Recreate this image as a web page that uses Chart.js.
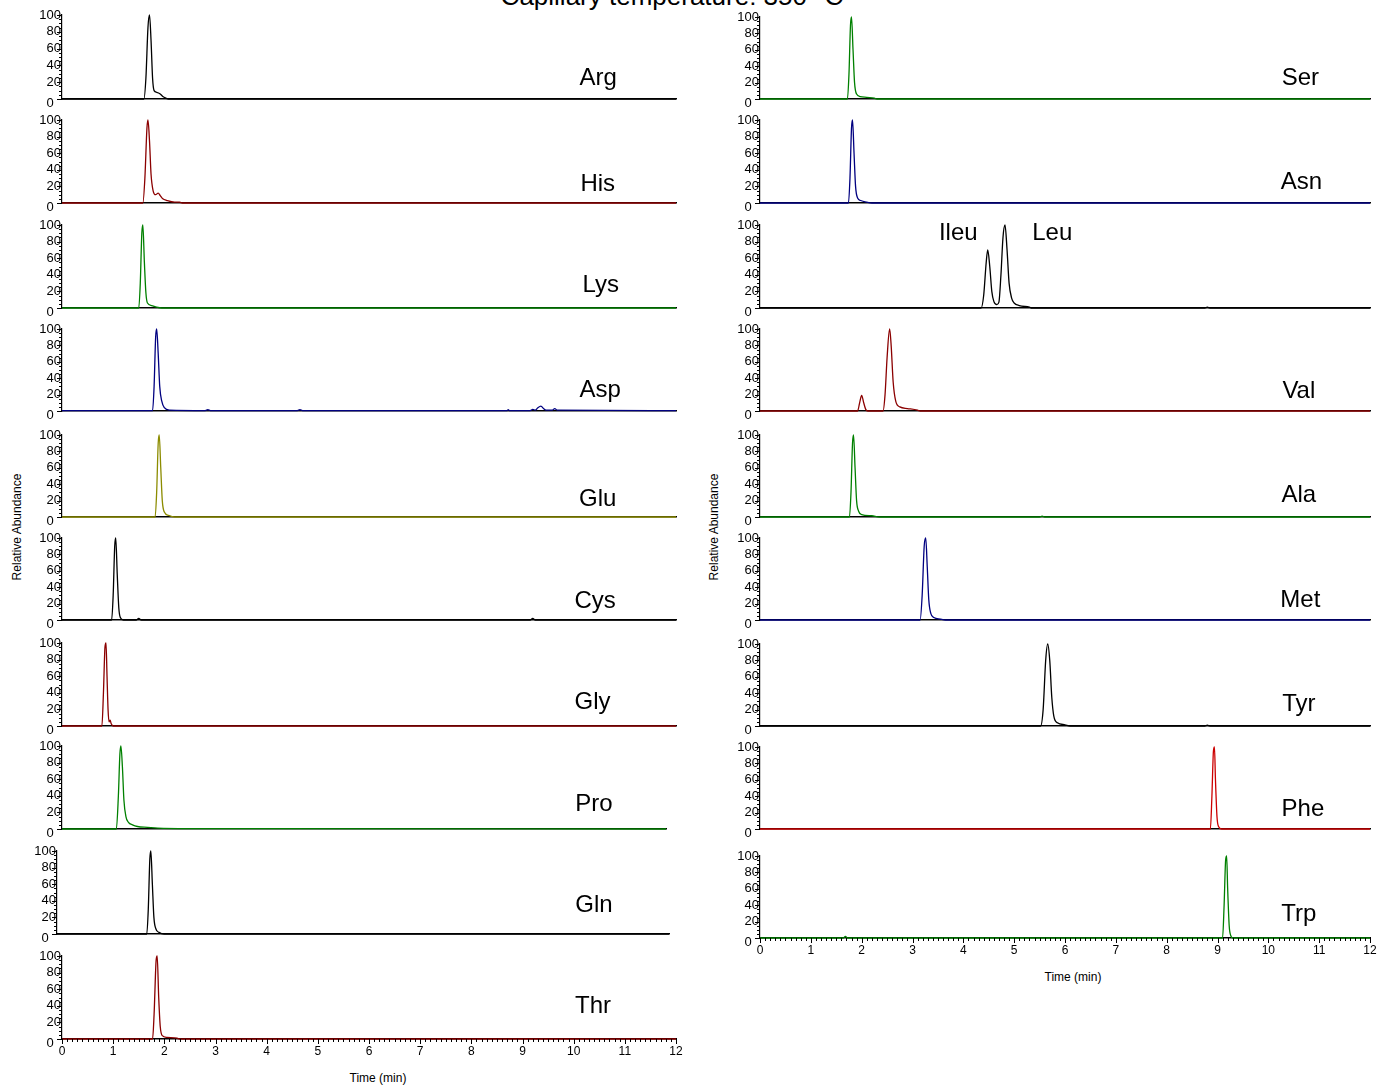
<!DOCTYPE html>
<html>
<head>
<meta charset="utf-8">
<script src="https://cdn.jsdelivr.net/npm/chart.js@4.4.1/dist/chart.umd.min.js"></script>
<style>
  body { margin: 0; background: #fff; width: 1378px; height: 1085px; overflow: hidden; position: relative; font-family: Arial, "Liberation Sans", sans-serif; }
  .panel { position: absolute; }
  .txt { position: absolute; color: #000; white-space: nowrap; }
  .vtitle { position: absolute; font-size: 12px; transform: translate(-50%, -50%) rotate(-90deg); white-space: nowrap; }
</style>
</head>
<body>
<div class="txt" style="left:672px; top:-19px; font-size:26px; transform:translateX(-50%);">Capillary temperature: 350 °C</div>
<div class="vtitle" style="left:17px; top:527px;">Relative Abundance</div>
<div class="vtitle" style="left:714px; top:527px;">Relative Abundance</div>
<div class="txt" style="left:378px; top:1071px; font-size:12px; transform:translateX(-50%);">Time (min)</div>
<div class="txt" style="left:1073px; top:970px; font-size:12px; transform:translateX(-50%);">Time (min)</div>
<script>
// time (min), relative abundance (%)
const argTrace = [[0,0],[1.6,0],[1.64,25],[1.68,85],[1.71,100],[1.74,70],[1.77,25],[1.8,10],[1.85,8],[1.92,6],[1.97,3],[2.03,1],[2.08,0],[12,0]];
const hisTrace = [[0,0],[1.58,0],[1.62,30],[1.66,90],[1.68,100],[1.71,75],[1.74,35],[1.78,15],[1.83,10],[1.88,12],[1.92,9],[1.97,5],[2.05,3],[2.2,1],[2.3,1],[2.35,0],[12,0]];
const lysTrace = [[0,0],[1.5,0],[1.53,30],[1.56,90],[1.58,100],[1.61,55],[1.64,18],[1.67,6],[1.75,3],[1.85,1],[1.95,0],[12,0]];
const aspTrace = [[0,0.5],[1.0,0.5],[1.77,0.5],[1.8,30],[1.83,90],[1.85,100],[1.88,70],[1.91,30],[1.95,12],[2.0,4],[2.1,1],[2.8,0.5],[2.85,1.5],[2.9,0.5],[4.6,0.5],[4.65,1.5],[4.7,0.5],[8.7,0.5],[8.72,1.5],[8.75,0.5],[9.15,0.5],[9.2,2],[9.25,1],[9.3,4],[9.36,6],[9.41,3],[9.46,1],[9.58,1],[9.63,3],[9.68,1],[12,0.5]];
const gluTrace = [[0,0],[1.82,0],[1.85,30],[1.88,90],[1.9,100],[1.93,60],[1.96,20],[2.0,6],[2.08,2],[2.2,0],[12,0]];
const cysTrace = [[0,0],[0.97,0],[1.0,30],[1.03,90],[1.05,100],[1.08,55],[1.11,15],[1.14,3],[1.2,0],[1.45,0],[1.5,2],[1.55,0],[9.15,0],[9.2,2],[9.25,0],[12,0]];
const glyTrace = [[0,0],[0.78,0],[0.81,40],[0.84,95],[0.86,100],[0.88,60],[0.9,20],[0.92,5],[0.94,7],[0.96,3],[1.0,0],[12,0]];
const proTrace = [[0,0],[1.08,0],[1.12,40],[1.15,90],[1.17,100],[1.2,75],[1.23,35],[1.27,15],[1.32,8],[1.4,5],[1.5,3],[1.7,2],[1.9,1],[2.5,0.5],[4,0.5],[12,0]];
const glnTrace = [[0,0],[1.76,0],[1.79,30],[1.82,90],[1.84,100],[1.87,60],[1.9,20],[1.94,6],[2.0,2],[2.1,0],[12,0]];
const thrTrace = [[0,0],[1.77,0],[1.8,30],[1.84,95],[1.86,100],[1.89,50],[1.92,15],[1.96,4],[2.05,2],[2.25,1],[2.3,0],[12,0]];

const serTrace = [[0,0],[1.72,0],[1.75,30],[1.78,90],[1.8,100],[1.83,60],[1.86,20],[1.9,6],[1.97,3],[2.1,2],[2.25,1],[2.3,0],[12,0]];
const asnTrace = [[0,0],[1.74,0],[1.77,30],[1.8,90],[1.82,100],[1.85,60],[1.88,20],[1.92,6],[1.98,3],[2.1,1],[2.2,0],[12,0]];
const leuTrace = [[0,0],[4.35,0],[4.4,15],[4.45,55],[4.48,70],[4.52,50],[4.56,20],[4.6,8],[4.66,4],[4.7,7],[4.74,40],[4.78,85],[4.82,100],[4.86,70],[4.9,30],[4.95,12],[5.0,6],[5.1,3],[5.3,1],[5.35,0],[8.75,0],[8.8,1],[8.85,0],[12,0]];
const valTrace = [[0,0],[1.92,0],[1.96,10],[2.0,19],[2.04,10],[2.08,2],[2.12,0],[2.42,0],[2.46,20],[2.5,65],[2.55,100],[2.58,80],[2.62,35],[2.67,12],[2.75,5],[2.9,3],[3.1,1],[3.15,0],[12,0]];
const alaTrace = [[0,0],[1.76,0],[1.79,30],[1.82,90],[1.84,100],[1.87,60],[1.9,20],[1.94,7],[2.0,3],[2.2,1.5],[2.35,0],[5.5,0],[5.55,1],[5.6,0],[12,0]];
const metTrace = [[0,0],[3.15,0],[3.19,30],[3.23,90],[3.26,100],[3.29,65],[3.32,25],[3.36,8],[3.42,3],[3.55,1],[3.65,0],[12,0]];
const tyrTrace = [[0,0],[5.52,0],[5.57,20],[5.62,80],[5.66,100],[5.7,80],[5.74,35],[5.78,12],[5.85,4],[6.0,1.5],[6.1,0],[8.75,0],[8.8,1],[8.85,0],[12,0]];
const pheTrace = [[0,0],[8.86,0],[8.89,40],[8.92,95],[8.94,100],[8.96,60],[8.99,15],[9.02,3],[9.08,0],[12,0]];
const trpTrace = [[0,0],[1.64,0],[1.68,2],[1.72,0],[9.1,0],[9.13,40],[9.16,95],[9.18,100],[9.2,60],[9.23,15],[9.26,3],[9.3,0],[12,0]];

const yTicks = [0, 20, 40, 60, 80, 100];
const xTicks = [0, 1, 2, 3, 4, 5, 6, 7, 8, 9, 10, 11, 12];

// panel layout: x0/x1 = pixel of 0 and 12 min, top/bot = pixel of 100 % and 0 %
const panels = [
  { trace: argTrace, color: '#000000', labels: [['Arg', 10.48, 25]], x0: 62, x1: 676, top: 15, bot: 99 },
  { trace: hisTrace, color: '#8b0000', labels: [['His', 10.47, 23]], x0: 62, x1: 676, top: 120, bot: 203 },
  { trace: lysTrace, color: '#008000', labels: [['Lys', 10.53, 27]], x0: 62, x1: 676, top: 225, bot: 308 },
  { trace: aspTrace, color: '#000080', labels: [['Asp', 10.52, 25]], x0: 62, x1: 676, top: 329, bot: 411 },
  { trace: gluTrace, color: '#8c8c00', labels: [['Glu', 10.47, 22]], x0: 62, x1: 676, top: 435, bot: 517 },
  { trace: cysTrace, color: '#000000', labels: [['Cys', 10.42, 23]], x0: 62, x1: 676, top: 538, bot: 620 },
  { trace: glyTrace, color: '#8b0000', labels: [['Gly', 10.37, 29]], x0: 62, x1: 676, top: 643, bot: 726 },
  { trace: proTrace, color: '#008000', labels: [['Pro', 10.57, 30]], x0: 62, x1: 666, top: 746, bot: 829 },
  { trace: glnTrace, color: '#000000', labels: [['Gln', 10.53, 35]], x0: 57, x1: 669, top: 851, bot: 934 },
  { trace: thrTrace, color: '#8b0000', labels: [['Thr', 10.38, 39]], x0: 62, x1: 676, top: 956, bot: 1039, axis: true },

  { trace: serTrace, color: '#008000', labels: [['Ser', 10.63, 25]], x0: 760, x1: 1370, top: 17, bot: 99 },
  { trace: asnTrace, color: '#000080', labels: [['Asn', 10.65, 25]], x0: 760, x1: 1370, top: 120, bot: 203 },
  { trace: leuTrace, color: '#000000', labels: [['Ileu', 3.9, 90], ['Leu', 5.75, 90]], x0: 760, x1: 1370, top: 225, bot: 308 },
  { trace: valTrace, color: '#8b0000', labels: [['Val', 10.6, 24]], x0: 760, x1: 1370, top: 329, bot: 411 },
  { trace: alaTrace, color: '#008000', labels: [['Ala', 10.6, 26]], x0: 760, x1: 1370, top: 435, bot: 517 },
  { trace: metTrace, color: '#000080', labels: [['Met', 10.63, 24]], x0: 760, x1: 1370, top: 538, bot: 620 },
  { trace: tyrTrace, color: '#000000', labels: [['Tyr', 10.6, 26]], x0: 760, x1: 1370, top: 644, bot: 726 },
  { trace: pheTrace, color: '#cc0000', labels: [['Phe', 10.68, 24]], x0: 760, x1: 1370, top: 747, bot: 829 },
  { trace: trpTrace, color: '#008000', labels: [['Trp', 10.6, 29]], x0: 760, x1: 1370, top: 856, bot: 938, axis: true }
];

const YW = 50, PT = 10, PR = 12;
const FONT = 'Arial, "Liberation Sans", sans-serif';

// minor ticks, the offset "0" label and the panel names
const extras = {
  id: 'extras',
  afterDraw(chart, args, opts) {
    const c = chart.ctx, xs = chart.scales.x, ys = chart.scales.y;
    c.save();
    c.strokeStyle = '#000';
    c.lineWidth = 1;
    c.beginPath();
    for (let v = 0; v <= 100; v += 5) {
      const py = Math.round(ys.getPixelForValue(v)) + 0.5;
      const len = v % 20 === 0 ? 5 : 3;
      c.moveTo(xs.left - len, py); c.lineTo(xs.left, py);
    }
    if (opts.axis) {
      for (let i = 0; i <= 120; i++) {
        const px = Math.round(xs.getPixelForValue(i / 10)) + 0.5;
        const len = i % 10 === 0 ? 5 : 3;
        c.moveTo(px, ys.bottom); c.lineTo(px, ys.bottom + len);
      }
    }
    c.stroke();
    c.fillStyle = '#000';
    c.font = '13px ' + FONT;
    c.textAlign = 'center';
    c.textBaseline = 'middle';
    c.fillText('0', xs.left - 12, ys.getPixelForValue(0) + 4);
    c.font = '24px ' + FONT;
    opts.labels.forEach(([t, lx, ly]) => {
      c.fillText(t, xs.getPixelForValue(lx), ys.getPixelForValue(ly));
    });
    c.restore();
  }
};

panels.forEach((p) => {
  const bottomH = p.axis ? 24 : 12;
  const w = (p.x1 - p.x0) + YW + PR;
  const h = (p.bot - p.top) + PT + bottomH;
  const div = document.createElement('div');
  div.className = 'panel';
  div.style.left = (p.x0 - YW) + 'px';
  div.style.top = (p.top - PT) + 'px';
  div.style.width = w + 'px';
  div.style.height = h + 'px';
  const cv = document.createElement('canvas');
  div.appendChild(cv);
  document.body.appendChild(div);

  new Chart(cv, {
    type: 'line',
    data: {
      datasets: [{
        data: p.trace.map((d) => ({ x: d[0], y: d[1] })),
        borderColor: p.color,
        borderWidth: 1.3,
        pointRadius: 0,
        cubicInterpolationMode: 'monotone',
        clip: 6
      }]
    },
    plugins: [extras],
    options: {
      responsive: true,
      maintainAspectRatio: false,
      animation: false,
      events: [],
      layout: { padding: { top: PT, right: PR, left: 0, bottom: 0 } },
      plugins: { legend: { display: false }, tooltip: { enabled: false }, extras: { labels: p.labels, axis: !!p.axis } },
      scales: {
        x: {
          type: 'linear',
          min: 0,
          max: 12,
          afterBuildTicks: (s) => { s.ticks = xTicks.map((v) => ({ value: v })); },
          afterFit: (s) => { s.height = bottomH; },
          grid: { display: false, drawTicks: false, tickLength: 0 },
          border: { display: true, color: '#000', width: 1.5 },
          ticks: {
            display: !!p.axis,
            padding: 5,
            color: '#000',
            font: { family: FONT, size: 12 },
            maxRotation: 0,
            autoSkip: false
          }
        },
        y: {
          min: 0,
          max: 100,
          afterBuildTicks: (s) => { s.ticks = yTicks.map((v) => ({ value: v })); },
          afterFit: (s) => { s.width = YW; },
          grid: { display: false, drawTicks: false, tickLength: 0 },
          border: { display: true, color: '#000', width: 1.2 },
          ticks: {
            padding: 1,
            color: '#000',
            font: { family: FONT, size: 13 },
            autoSkip: false,
            callback: (v) => (v === 0 ? '' : v)
          }
        }
      }
    }
  });
});
</script>
</body>
</html>
